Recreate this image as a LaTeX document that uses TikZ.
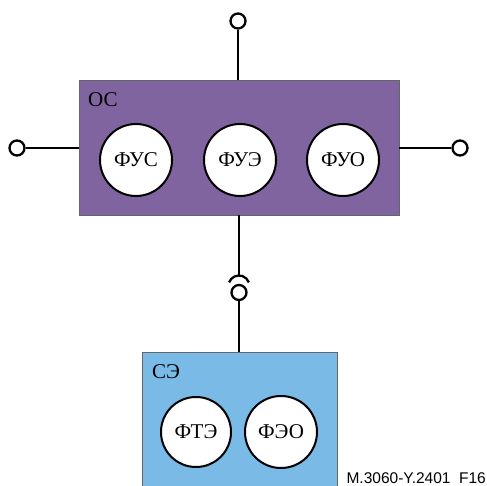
\documentclass[tikz,border=0pt]{standalone}
\usepackage{fontspec}
\setmainfont{Liberation Serif}
\newfontfamily\labelfont{Liberation Sans}
\definecolor{ospurple}{RGB}{128,100,160}
\definecolor{seblue}{RGB}{122,186,230}
\begin{document}
\begin{tikzpicture}[x=1pt,y=-1pt,
  conn/.style={line width=2.8pt,black},
  term/.style={circle,draw=black,fill=white,line width=2.3pt,minimum size=15pt,inner sep=0pt},
  func/.style={circle,draw=black,fill=white,line width=2pt,minimum size=72pt,inner sep=0pt,font=\fontsize{21}{23}\selectfont},
  blocklab/.style={anchor=west,inner sep=0pt,font=\fontsize{21}{23}\selectfont}]
\useasboundingbox (0,0) rectangle (487,486);
% OC box
\node[draw=black!60,line width=0.8pt,fill=ospurple,minimum width=320pt,minimum height=135pt,inner sep=0pt] (os) at (239,147.5) {};
\node[blocklab] (oslab) at (88,100) {ОС};
\node[func] (fus) at (136,160) {ФУС};
\node[func] (fue) at (240,160) {ФУЭ};
\node[func] (fuo) at (343,160) {ФУО};
% terminals
\node[term] (ttop) at (238,21) {};
\node[term] (tleft) at (17,148) {};
\node[term] (tright) at (460,148) {};
\draw[conn] (ttop) -- (ttop |- os.north);
\draw[conn] (tleft) -- (tleft -| os.west);
\draw[conn] (tright) -- (tright -| os.east);
% SE box
\node[draw=black!60,line width=0.8pt,fill=seblue,minimum width=195pt,minimum height=150pt,inner sep=0pt,anchor=north west] (se) at (142,352) {};
\node[blocklab] (selab) at (152,372) {СЭ};
\node[func,minimum size=70pt] (fte) at (196,432) {ФТЭ};
\node[func] (feo) at (281,432) {ФЭО};
% socket / plug connection
\coordinate (sock) at (239,275.5);
\node[term] (plug) at (239,292.5) {};
\draw[conn] (os.south -| sock) -- (sock);
\draw[line width=2.3pt] (239,286) ++(200:10.5) arc[start angle=200,end angle=340,radius=10.5];
\draw[conn] (plug) -- (plug |- se.north);
\node[anchor=base east,inner sep=0pt,font=\labelfont\fontsize{15.5}{17}\selectfont] (code) at (486,483) {M.3060-Y.2401\hspace{0.55em}F16};
\end{tikzpicture}
\end{document}
